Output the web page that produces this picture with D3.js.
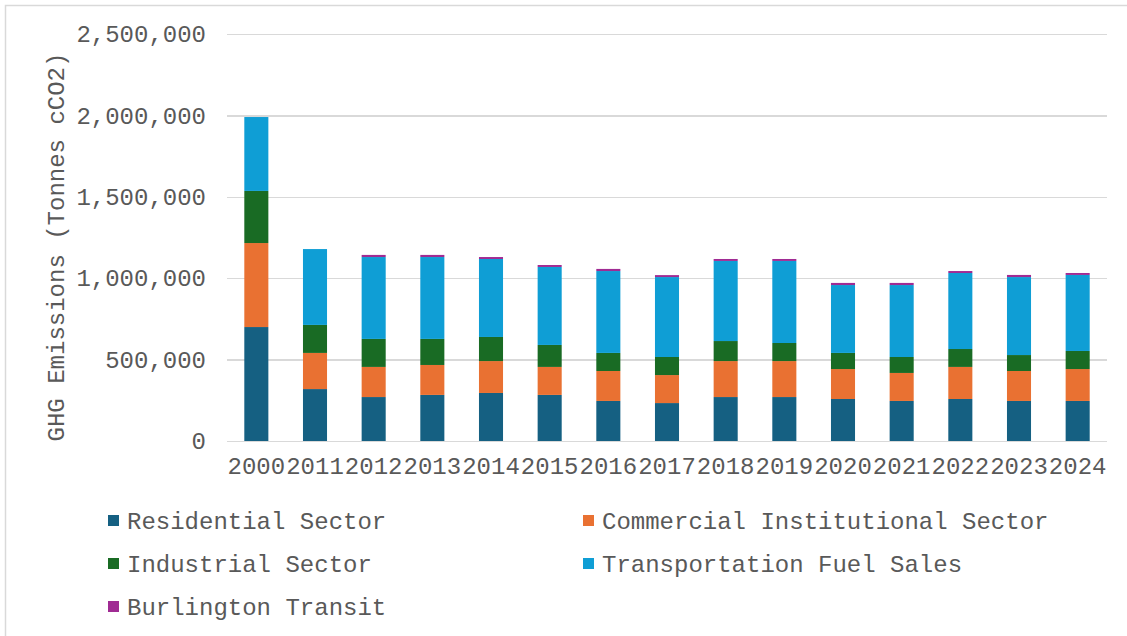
<!DOCTYPE html>
<html>
<head>
  <meta charset="utf-8">
  <title>GHG Emissions</title>
  <style>
    body { margin: 0; background: #fff; }
    text { font-family: "Liberation Mono", "Courier New", monospace; fill: #595959; }
    .axis path, .axis line { display: none; }
    .grid line { stroke: #d9d9d9; stroke-width: 1.5; shape-rendering: crispEdges; }
    .grid path { display: none; }
  </style>
</head>
<body>
<script src="https://d3js.org/d3.v7.min.js"></script>
<script>
  var years = ['2000', '2011', '2012', '2013', '2014', '2015', '2016', '2017', '2018', '2019', '2020', '2021', '2022', '2023', '2024'];

  var residential    = [700000, 319000, 270000, 283000, 295000, 283000, 246000, 233000, 270000, 270000, 258000, 246000, 258000, 246000, 246000];
  var commercial     = [516000, 222000, 185000, 184000, 196000, 172000, 184000, 172000, 221000, 221000, 184000, 172000, 197000, 184000, 196000];
  var industrial     = [320000, 172000, 172000, 160000, 148000, 135000, 111000, 111000, 123000, 111000,  99000,  98000, 110000,  98000, 111000];
  var transportation = [454000, 466000, 503000, 503000, 479000, 479000, 503000, 491000, 492000, 504000, 417000, 442000, 467000, 479000, 467000];
  var transit        = [     0,      0,  13000,  13000,  12000,  12000,  13000,  12000,  12000,  12000,  13000,  13000,  12000,  13000,  12000];

  var seriesNames = ['Residential Sector', 'Commercial Institutional Sector', 'Industrial Sector', 'Transportation Fuel Sales', 'Burlington Transit'];
  var seriesKeys = ['res', 'com', 'ind', 'trans', 'transit'];
  var colors = ['#156082', '#e97132', '#196b24', '#0f9ed5', '#a02b93'];
  var yTicks = [0, 500000, 1000000, 1500000, 2000000, 2500000];

  var width = 1127, height = 636;
  var margin = {left: 227, right: 20, top: 34, bottom: 195};

  var svg = d3.select('body').append('svg')
    .attr('width', width)
    .attr('height', height);

  // chart border (only left/top inside the frame)
  svg.append('rect')
    .attr('x', 5.5).attr('y', 5.5)
    .attr('width', width + 20).attr('height', height + 20)
    .attr('fill', 'none')
    .attr('stroke', '#d9d9d9')
    .attr('stroke-width', 1.5);

  var rows = years.map(function(y, i) {
    return {year: y, res: residential[i], com: commercial[i], ind: industrial[i], trans: transportation[i], transit: transit[i]};
  });

  var stack = d3.stack().keys(seriesKeys);
  var layers = stack(rows);

  var x = d3.scaleBand()
    .domain(years)
    .range([margin.left, width - margin.right])
    .paddingInner(0.59)
    .paddingOuter(0.295);

  var y = d3.scaleLinear()
    .domain([0, 2500000])
    .range([height - margin.bottom, margin.top]);

  // gridlines
  svg.append('g')
    .attr('class', 'grid')
    .attr('transform', 'translate(' + margin.left + ',0)')
    .call(d3.axisLeft(y).tickValues(yTicks).tickSize(-(width - margin.right - margin.left)).tickFormat(''));

  // y axis labels
  svg.append('g')
    .attr('class', 'axis')
    .attr('transform', 'translate(' + margin.left + ',0)')
    .call(d3.axisLeft(y).tickValues(yTicks).tickSize(0).tickPadding(21).tickFormat(d3.format(',')))
    .selectAll('text')
    .style('font-size', '24px')
    .attr('fill', '#595959');

  // bars
  svg.append('g').selectAll('g')
    .data(layers)
    .enter().append('g')
    .attr('fill', function(d, i) { return colors[i]; })
    .selectAll('rect')
    .data(function(d) { return d; })
    .enter().append('rect')
    .attr('x', function(d) { return x(d.data.year); })
    .attr('y', function(d) { return y(d[1]); })
    .attr('height', function(d) { return y(d[0]) - y(d[1]); })
    .attr('width', x.bandwidth());

  // x axis labels
  svg.append('g')
    .attr('class', 'axis')
    .attr('transform', 'translate(0,' + (height - margin.bottom) + ')')
    .call(d3.axisBottom(x).tickSize(0).tickPadding(16))
    .selectAll('text')
    .style('font-size', '24px')
    .attr('fill', '#595959');

  // y axis title
  svg.append('text')
    .attr('transform', 'translate(64,247) rotate(-90)')
    .attr('text-anchor', 'middle')
    .style('font-size', '24px')
    .text('GHG Emissions (Tonnes cCO2)');

  // legend
  var legend = svg.append('g').selectAll('g')
    .data(seriesNames)
    .enter().append('g')
    .attr('transform', function(d, i) {
      return 'translate(' + (i % 2 === 0 ? 108 : 583) + ',' + (521 + Math.floor(i / 2) * 43) + ')';
    });

  legend.append('rect')
    .attr('x', 0).attr('y', -6)
    .attr('width', 11).attr('height', 11)
    .attr('fill', function(d, i) { return colors[i]; });

  legend.append('text')
    .attr('x', 19).attr('y', 8)
    .style('font-size', '24px')
    .text(function(d) { return d; });
</script>
</body>
</html>
